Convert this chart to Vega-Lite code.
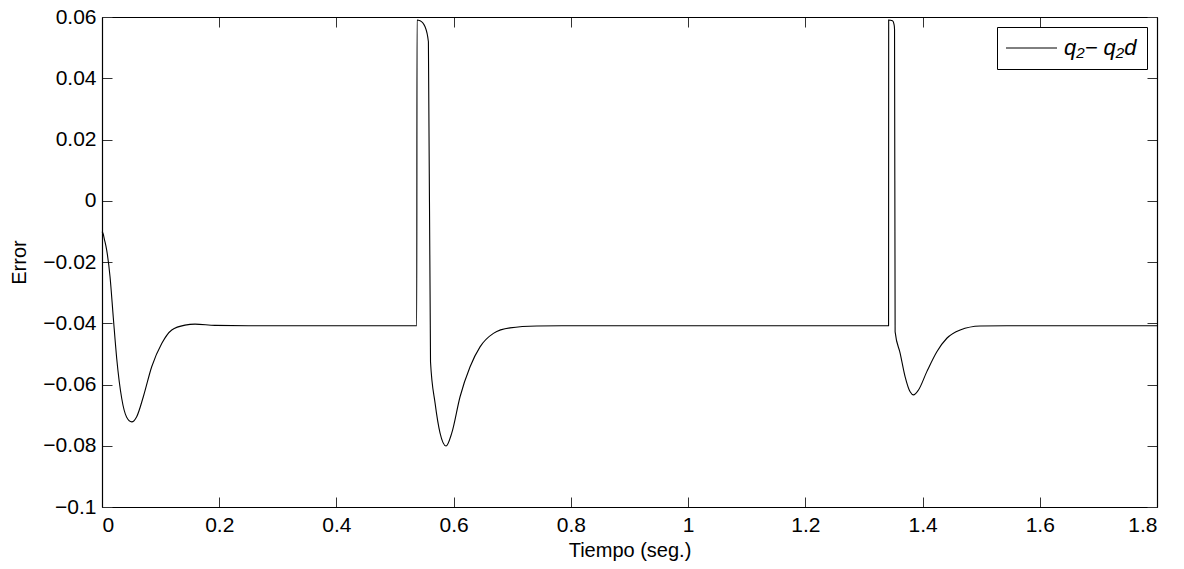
{
  "$schema": "https://vega.github.io/schema/vega-lite/v6.json",
  "autosize": {"type": "none"},
  "width": 1055,
  "height": 490,
  "padding": {"left": 102, "top": 17, "right": 27, "bottom": 62},
  "background": "white",
  "config": {
    "view": {"stroke": null},
    "font": "Liberation Sans",
    "axis": {
      "grid": false,
      "domainColor": "black",
      "domainWidth": 1.2,
      "tickColor": "#333333",
      "tickSize": -10,
      "tickWidth": 1,
      "labelFont": "Liberation Sans",
      "labelFontSize": 21,
      "labelColor": "black",
      "titleFont": "Liberation Sans",
      "titleFontSize": 20,
      "titleFontWeight": "normal",
      "titleColor": "black"
    },
    "legend": {
      "labelFont": "Liberation Sans",
      "labelFontSize": 22,
      "labelFontStyle": "italic",
      "labelColor": "black"
    }
  },
  "data": {
    "values": [
      {"t": 0, "e": -0.0101, "s": "q₂− q₂d"},
      {"t": 0.002, "e": -0.0108, "s": "q₂− q₂d"},
      {"t": 0.004, "e": -0.0125, "s": "q₂− q₂d"},
      {"t": 0.008, "e": -0.0161, "s": "q₂− q₂d"},
      {"t": 0.0137, "e": -0.0248, "s": "q₂− q₂d"},
      {"t": 0.0193, "e": -0.0382, "s": "q₂− q₂d"},
      {"t": 0.0251, "e": -0.0515, "s": "q₂− q₂d"},
      {"t": 0.0336, "e": -0.0645, "s": "q₂− q₂d"},
      {"t": 0.0421, "e": -0.0707, "s": "q₂− q₂d"},
      {"t": 0.0507, "e": -0.0722, "s": "q₂− q₂d"},
      {"t": 0.0592, "e": -0.0705, "s": "q₂− q₂d"},
      {"t": 0.0705, "e": -0.064, "s": "q₂− q₂d"},
      {"t": 0.0848, "e": -0.0542, "s": "q₂− q₂d"},
      {"t": 0.1019, "e": -0.0466, "s": "q₂− q₂d"},
      {"t": 0.119, "e": -0.0422, "s": "q₂− q₂d"},
      {"t": 0.1416, "e": -0.0406, "s": "q₂− q₂d"},
      {"t": 0.1587, "e": -0.0403, "s": "q₂− q₂d"},
      {"t": 0.1928, "e": -0.0407, "s": "q₂− q₂d"},
      {"t": 0.25, "e": -0.0408, "s": "q₂− q₂d"},
      {"t": 0.537, "e": -0.0408, "s": "q₂− q₂d"},
      {"t": 0.5375, "e": 0.059, "s": "q₂− q₂d"},
      {"t": 0.5427, "e": 0.0588, "s": "q₂− q₂d"},
      {"t": 0.5512, "e": 0.0568, "s": "q₂− q₂d"},
      {"t": 0.5569, "e": 0.0519, "s": "q₂− q₂d"},
      {"t": 0.5605, "e": -0.0526, "s": "q₂− q₂d"},
      {"t": 0.5683, "e": -0.0661, "s": "q₂− q₂d"},
      {"t": 0.5768, "e": -0.0759, "s": "q₂− q₂d"},
      {"t": 0.587, "e": -0.0801, "s": "q₂− q₂d"},
      {"t": 0.5967, "e": -0.0759, "s": "q₂− q₂d"},
      {"t": 0.6109, "e": -0.064, "s": "q₂− q₂d"},
      {"t": 0.628, "e": -0.0542, "s": "q₂− q₂d"},
      {"t": 0.645, "e": -0.0477, "s": "q₂− q₂d"},
      {"t": 0.6678, "e": -0.0433, "s": "q₂− q₂d"},
      {"t": 0.696, "e": -0.0415, "s": "q₂− q₂d"},
      {"t": 0.7418, "e": -0.0409, "s": "q₂− q₂d"},
      {"t": 0.8, "e": -0.0408, "s": "q₂− q₂d"},
      {"t": 1.342, "e": -0.0408, "s": "q₂− q₂d"},
      {"t": 1.3422, "e": 0.059, "s": "q₂− q₂d"},
      {"t": 1.3487, "e": 0.0588, "s": "q₂− q₂d"},
      {"t": 1.3515, "e": 0.0574, "s": "q₂− q₂d"},
      {"t": 1.3522, "e": 0.056, "s": "q₂− q₂d"},
      {"t": 1.3532, "e": -0.0428, "s": "q₂− q₂d"},
      {"t": 1.3618, "e": -0.0498, "s": "q₂− q₂d"},
      {"t": 1.3703, "e": -0.0575, "s": "q₂− q₂d"},
      {"t": 1.3788, "e": -0.0624, "s": "q₂− q₂d"},
      {"t": 1.3845, "e": -0.0634, "s": "q₂− q₂d"},
      {"t": 1.393, "e": -0.0618, "s": "q₂− q₂d"},
      {"t": 1.4073, "e": -0.0558, "s": "q₂− q₂d"},
      {"t": 1.4244, "e": -0.0493, "s": "q₂− q₂d"},
      {"t": 1.4414, "e": -0.0449, "s": "q₂− q₂d"},
      {"t": 1.4642, "e": -0.0422, "s": "q₂− q₂d"},
      {"t": 1.4983, "e": -0.0409, "s": "q₂− q₂d"},
      {"t": 1.544, "e": -0.0408, "s": "q₂− q₂d"},
      {"t": 1.8, "e": -0.0408, "s": "q₂− q₂d"}
    ]
  },
  "layer": [
    {
      "mark": {"type": "line", "strokeWidth": 1.1, "interpolate": "monotone"},
      "encoding": {
        "x": {
          "field": "t", "type": "quantitative",
          "scale": {"domain": [0, 1.8], "nice": false, "zero": false},
          "axis": {"orient": "bottom", "title": "Tiempo (seg.)", "values": [0, 0.2, 0.4, 0.6, 0.8, 1, 1.2, 1.4, 1.6, 1.8], "format": "~g", "labelPadding": 17, "titlePadding": 5}
        },
        "y": {
          "field": "e", "type": "quantitative",
          "scale": {"domain": [-0.1, 0.06], "nice": false, "zero": false},
          "axis": {"orient": "left", "title": "Error", "values": [-0.1, -0.08, -0.06, -0.04, -0.02, 0, 0.02, 0.04, 0.06], "format": "~g", "labelPadding": 16, "titlePadding": 13}
        },
        "color": {
          "field": "s", "type": "nominal",
          "scale": {"range": ["black"]},
          "legend": {
            "title": null,
            "orient": "top-right",
            "offset": 10,
            "symbolType": "M-3,0H3",
            "symbolSize": 289,
            "symbolStrokeWidth": 1,
            "symbolOffset": 13.5,
            "strokeColor": "black",
            "fillColor": "white",
            "padding": 10,
            "labelOffset": 21.5
          }
        }
      }
    },
    {
      "mark": {"type": "line", "opacity": 0},
      "encoding": {
        "x": {
          "field": "t", "type": "quantitative",
          "axis": {"orient": "top", "title": null, "labels": false, "values": [0, 0.2, 0.4, 0.6, 0.8, 1, 1.2, 1.4, 1.6, 1.8]}
        },
        "y": {
          "field": "e", "type": "quantitative",
          "axis": {"orient": "right", "title": null, "labels": false, "values": [-0.1, -0.08, -0.06, -0.04, -0.02, 0, 0.02, 0.04, 0.06]}
        }
      }
    }
  ],
  "resolve": {"axis": {"x": "independent", "y": "independent"}}
}
